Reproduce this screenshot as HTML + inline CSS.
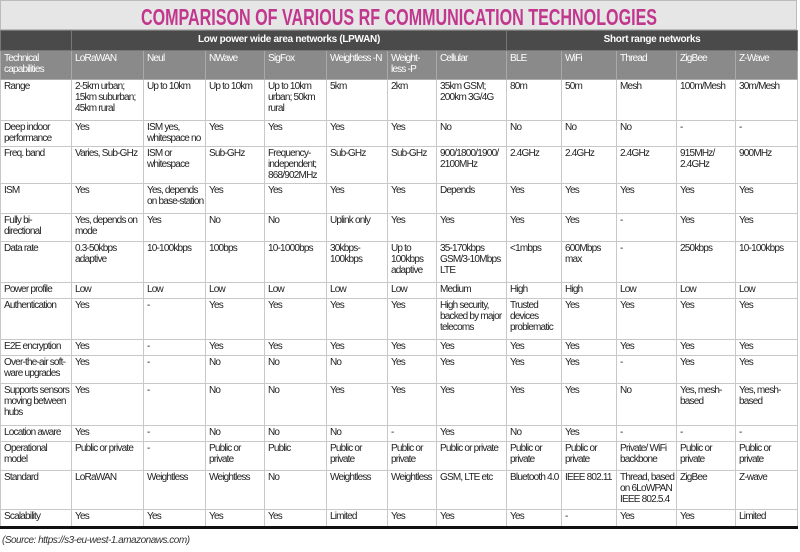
<!DOCTYPE html>
<html><head><meta charset="utf-8"><style>
body{margin:0;width:800px;height:552px;background:#fff;overflow:hidden;font-family:"Liberation Sans",sans-serif;}
.title{position:absolute;left:0;top:0;width:797px;height:30px;background:#e6e6e6;border:1px solid #bbb;box-sizing:border-box;}
.title span{position:absolute;left:50%;top:3px;white-space:nowrap;font-weight:bold;font-size:23px;color:#c2378e;transform:translateX(-50%) scaleX(0.7);}
table{position:absolute;left:0;top:30px;border-collapse:collapse;table-layout:fixed;width:797px;font-size:10px;letter-spacing:-0.8px;color:#222;}
td{border:1px solid #c8c8c8;vertical-align:top;padding:2px 0 0 3px;line-height:10.8px;overflow:hidden;box-sizing:border-box;}
tr.g td{background:#4a4a4a;color:#fff;font-weight:bold;text-align:center;vertical-align:middle;padding:0;border-color:#777;letter-spacing:-0.3px;}
tr.h td{background:#8a8a8a;color:#fff;border-color:#aaa;padding-top:3px;}
tr.last td{border-bottom:3px solid #111;}
.src{position:absolute;left:2px;top:535px;font-size:10px;font-style:italic;color:#333;letter-spacing:-0.5px;}
</style></head><body>
<div class="title"><span>COMPARISON OF VARIOUS RF COMMUNICATION TECHNOLOGIES</span></div>
<table>
<colgroup><col style="width:71px"><col style="width:72px"><col style="width:62px"><col style="width:59px"><col style="width:62px"><col style="width:61px"><col style="width:49px"><col style="width:70px"><col style="width:55px"><col style="width:55px"><col style="width:60px"><col style="width:59px"><col style="width:62px"></colgroup>
<tr class="g" style="height:20px"><td></td><td colspan="7">Low power wide area networks (LPWAN)</td><td colspan="5">Short range networks</td></tr>
<tr class="h" style="height:29px"><td>Technical<br>capabilities</td><td>LoRaWAN</td><td>Neul</td><td>NWave</td><td>SigFox</td><td>Weightless -N</td><td>Weight-<br>less -P</td><td>Cellular</td><td>BLE</td><td>WiFi</td><td>Thread</td><td>ZigBee</td><td>Z-Wave</td></tr>
<tr style="height:41px"><td>Range</td><td>2-5km urban;<br>15km suburban;<br>45km rural</td><td>Up to 10km</td><td>Up to 10km</td><td>Up to 10km<br>urban; 50km<br>rural</td><td>5km</td><td>2km</td><td>35km GSM;<br>200km 3G/4G</td><td>80m</td><td>50m</td><td>Mesh</td><td>100m/Mesh</td><td>30m/Mesh</td></tr>
<tr style="height:26px"><td>Deep indoor<br>performance</td><td>Yes</td><td>ISM yes,<br>whitespace no</td><td>Yes</td><td>Yes</td><td>Yes</td><td>Yes</td><td>No</td><td>No</td><td>No</td><td>No</td><td>-</td><td>-</td></tr>
<tr style="height:37px"><td>Freq. band</td><td>Varies, Sub-GHz</td><td>ISM or<br>whitespace</td><td>Sub-GHz</td><td>Frequency-<br>independent;<br>868/902MHz</td><td>Sub-GHz</td><td>Sub-GHz</td><td>900/1800/1900/<br>2100MHz</td><td>2.4GHz</td><td>2.4GHz</td><td>2.4GHz</td><td>915MHz/<br>2.4GHz</td><td>900MHz</td></tr>
<tr style="height:30px"><td>ISM</td><td>Yes</td><td>Yes, depends<br>on&nbsp;base-station</td><td>Yes</td><td>Yes</td><td>Yes</td><td>Yes</td><td>Depends</td><td>Yes</td><td>Yes</td><td>Yes</td><td>Yes</td><td>Yes</td></tr>
<tr style="height:28px"><td>Fully bi-<br>directional</td><td>Yes, depends on<br>mode</td><td>Yes</td><td>No</td><td>No</td><td>Uplink only</td><td>Yes</td><td>Yes</td><td>Yes</td><td>Yes</td><td>-</td><td>Yes</td><td>Yes</td></tr>
<tr style="height:41px"><td>Data rate</td><td>0.3-50kbps<br>adaptive</td><td>10-100kbps</td><td>100bps</td><td>10-1000bps</td><td>30kbps-<br>100kbps</td><td>Up to<br>100kbps<br>adaptive</td><td>35-170kbps<br>GSM/3-10Mbps<br>LTE</td><td>&lt;1mbps</td><td>600Mbps<br>max</td><td>-</td><td>250kbps</td><td>10-100kbps</td></tr>
<tr style="height:16px"><td>Power profile</td><td>Low</td><td>Low</td><td>Low</td><td>Low</td><td>Low</td><td>Low</td><td>Medium</td><td>High</td><td>High</td><td>Low</td><td>Low</td><td>Low</td></tr>
<tr style="height:41px"><td>Authentication</td><td>Yes</td><td>-</td><td>Yes</td><td>Yes</td><td>Yes</td><td>Yes</td><td>High security,<br>backed by major<br>telecoms</td><td>Trusted<br>devices<br>problematic</td><td>Yes</td><td>Yes</td><td>Yes</td><td>Yes</td></tr>
<tr style="height:16px"><td>E2E encryption</td><td>Yes</td><td>-</td><td>Yes</td><td>Yes</td><td>Yes</td><td>Yes</td><td>Yes</td><td>Yes</td><td>Yes</td><td>Yes</td><td>Yes</td><td>Yes</td></tr>
<tr style="height:28px"><td>Over-the-air soft-<br>ware upgrades</td><td>Yes</td><td>-</td><td>No</td><td>No</td><td>No</td><td>Yes</td><td>Yes</td><td>Yes</td><td>Yes</td><td>-</td><td>Yes</td><td>Yes</td></tr>
<tr style="height:42px"><td>Supports sensors<br>moving between<br>hubs</td><td>Yes</td><td>-</td><td>No</td><td>No</td><td>Yes</td><td>Yes</td><td>Yes</td><td>Yes</td><td>Yes</td><td>No</td><td>Yes, mesh-<br>based</td><td>Yes, mesh-<br>based</td></tr>
<tr style="height:16px"><td>Location aware</td><td>Yes</td><td>-</td><td>No</td><td>No</td><td>No</td><td>-</td><td>Yes</td><td>No</td><td>Yes</td><td>-</td><td>-</td><td>-</td></tr>
<tr style="height:29px"><td>Operational<br>model</td><td>Public or private</td><td>-</td><td>Public or<br>private</td><td>Public</td><td>Public or<br>private</td><td>Public or<br>private</td><td>Public or private</td><td>Public or<br>private</td><td>Public or<br>private</td><td>Private/ WiFi<br>backbone</td><td>Public or<br>private</td><td>Public or<br>private</td></tr>
<tr style="height:39px"><td>Standard</td><td>LoRaWAN</td><td>Weightless</td><td>Weightless</td><td>No</td><td>Weightless</td><td>Weightless</td><td>GSM, LTE etc</td><td>Bluetooth 4.0</td><td>IEEE 802.11</td><td>Thread, based<br>on 6LoWPAN<br>IEEE&nbsp;802.5.4</td><td>ZigBee</td><td>Z-wave</td></tr>
<tr class="last" style="height:18px"><td>Scalability</td><td>Yes</td><td>Yes</td><td>Yes</td><td>Yes</td><td>Limited</td><td>Yes</td><td>Yes</td><td>Yes</td><td>-</td><td>Yes</td><td>Yes</td><td>Limited</td></tr>
</table>
<div class="src">(Source: https://s3-eu-west-1.amazonaws.com)</div>
</body></html>
